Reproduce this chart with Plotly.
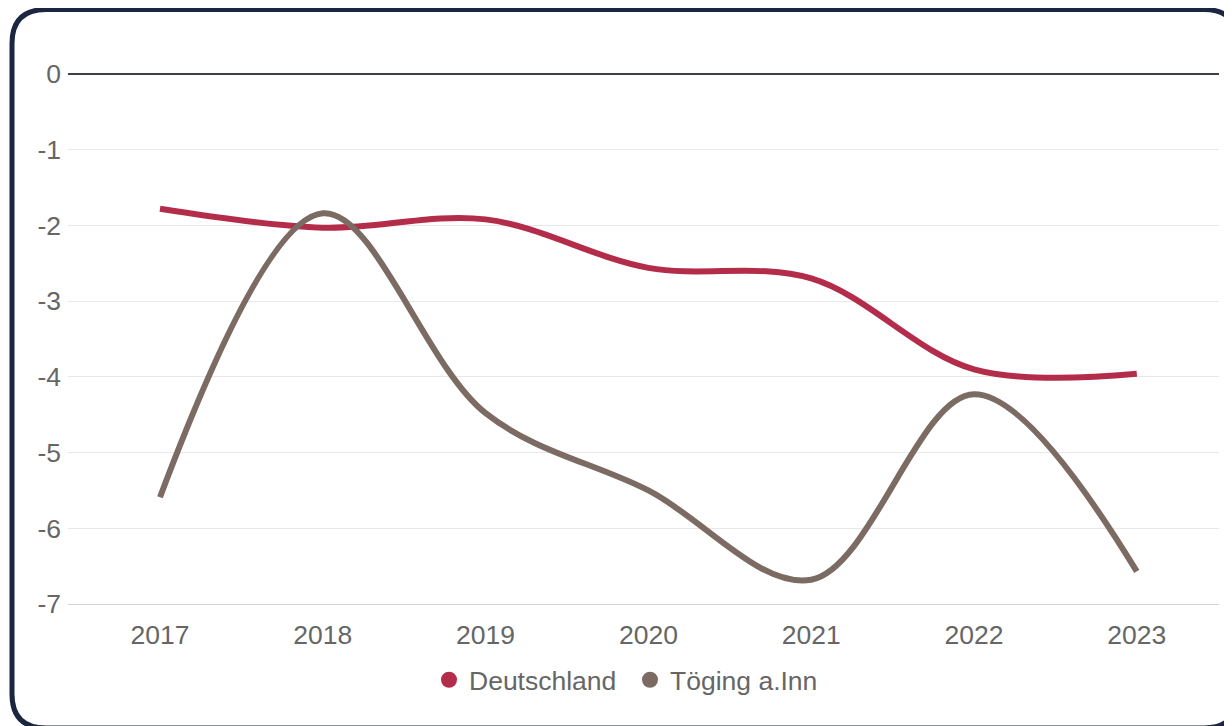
import plotly.graph_objects as go

years = [2017, 2018, 2019, 2020, 2021, 2022, 2023]
deutschland = [-1.78, -2.03, -1.92, -2.56, -2.70, -3.90, -3.96]
toeging = [-5.59, -1.84, -4.48, -5.50, -6.68, -4.23, -6.57]
y_ticks = [0, -1, -2, -3, -4, -5, -6, -7]

series = [
    ("Deutschland", deutschland, "#b32d4b"),
    ("Töging a.Inn", toeging, "#7b6b63"),
]

# page body has an 8px margin, so work in screen pixels and shift
OFF = 8
W, H = 1232 - OFF, 726 - OFF
L, R, T, B = 68 - OFF, 1219 - OFF, 74 - OFF, 604 - OFF
FONT = "Liberation Sans, Arial, sans-serif"


def px(x, y):
    # screen pixel position -> paper coords
    return (x - OFF - L) / (R - L), (B - (y - OFF)) / (B - T)


def rounded_rect(x0, y0, x1, y1, r):
    pts = [
        ("M", [(x0 + r, y0)]),
        ("L", [(x1 - r, y0)]),
        ("Q", [(x1, y0), (x1, y0 + r)]),
        ("L", [(x1, y1 - r)]),
        ("Q", [(x1, y1), (x1 - r, y1)]),
        ("L", [(x0 + r, y1)]),
        ("Q", [(x0, y1), (x0, y1 - r)]),
        ("L", [(x0, y0 + r)]),
        ("Q", [(x0, y0), (x0 + r, y0)]),
    ]
    out = []
    for cmd, coords in pts:
        s = " ".join("%.5f,%.5f" % px(a, b) for a, b in coords)
        out.append(cmd + " " + s)
    return " ".join(out) + " Z"


fig = go.Figure()

for name, vals, color in series:
    fig.add_trace(go.Scatter(
        x=years, y=vals, mode="lines", name=name,
        line=dict(color=color, width=6, shape="spline", smoothing=1),
        showlegend=False, legendgroup=name, hoverinfo="x+y+name",
    ))
    # legend entry as a dot
    fig.add_trace(go.Scatter(
        x=[None], y=[None], mode="markers", name=name,
        marker=dict(color=color, size=20, symbol="circle"),
        legendgroup=name,
    ))

fig.update_layout(
    width=W, height=H,
    margin=dict(l=L, r=W - R, t=T, b=H - B),
    paper_bgcolor="white",
    plot_bgcolor="white",
    font=dict(family=FONT, size=26.5, color="#666666"),
    legend=dict(
        orientation="h",
        x=px(630, 0)[0], xanchor="center",
        y=px(0, 680)[1], yanchor="middle",
        font=dict(size=26.5, color="#666666"),
        itemsizing="trace",
        entrywidth=156,
    ),
    shapes=[dict(
        type="path", xref="paper", yref="paper",
        path=rounded_rect(12, 9.5, 1238, 728, 34),
        line=dict(color="#1b2640", width=5),
        layer="above",
    )],
)

fig.update_xaxes(
    range=[2016.435, 2023.505],
    tickvals=years, ticktext=[str(y) for y in years],
    showgrid=False, zeroline=False,
    showline=True, linecolor="#d4d4d4", linewidth=1,
    ticks="", ticklabelstandoff=7,
)
fig.update_yaxes(
    range=[-7, 0],
    tickvals=y_ticks, ticktext=["%d" % v for v in y_ticks],
    showgrid=True, gridcolor="#e8e8e8", gridwidth=1,
    zeroline=True, zerolinecolor="#3a3f48", zerolinewidth=1.5,
    ticks="", ticklabelstandoff=6,
)

fig.write_html("out.html")
